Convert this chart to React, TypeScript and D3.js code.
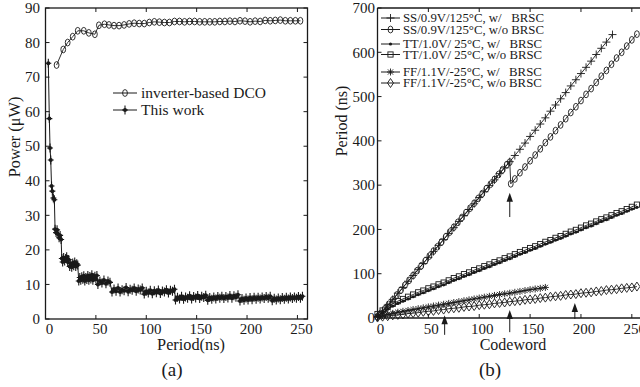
import React from "react";
import * as d3 from "d3";

// ---------- Data: panel (a) ----------
const periodTicksA = [0, 50, 100, 150, 200, 250];
const powerTicks = [0, 10, 20, 30, 40, 50, 60, 70, 80, 90];

// inverter-based DCO: [period ns, power uW]
const dcoData: [number, number][] = [
  [11, 73.5], [17.6, 78], [22, 80], [27, 81.7], [32, 83.4], [38, 83.4], [43, 82.8], [49, 82.4],
  [53, 85], [58.5, 85.3], [63, 85.1], [68, 84.9], [73, 84.9], [78, 85.1], [83, 85.4], [88, 85.6],
  [93, 85.5], [98, 85.5], [103, 85.8], [108, 86], [113, 85.9], [118, 85.8], [123, 85.8], [128, 86.1],
  [133, 86.1], [138, 86], [143, 86.1], [148, 86.1], [153, 86], [158, 86], [163, 86], [168, 86],
  [173, 86.1], [178, 86.1], [183, 86.2], [188, 86.1], [193, 86.3], [198, 86.2], [203, 86], [208, 86.2],
  [213, 86.1], [218, 86.4], [223, 86.3], [228, 86.4], [233, 86.5], [238, 86.3], [243, 86.3], [248, 86.3], [253, 86.3],
];

// This work: [period ns, power uW]
const thisWorkData: [number, number][] = [
  [2.8, 74], [3.8, 58], [4.5, 49.5], [5.2, 46], [6, 38.5], [6.8, 37], [7.8, 35], [8.8, 34.5],
  [9.5, 26], [10.5, 25], [11.5, 25.8], [12.5, 24.5], [13.5, 23.5], [14.5, 24.2], [15.5, 23],
  [16.2, 17.5], [17, 16.5], [18, 17.8], [19, 16.8], [20, 17.5], [21, 18], [22, 16.5], [23, 17.2],
  [24, 15.2], [25, 16], [26, 15], [27, 16.2], [28, 15.4], [29, 16.5], [30, 15.2], [31, 16], [32, 15.6],
  [33, 11], [34, 12], [35, 11.2], [36, 12.2], [37, 11.5], [38, 12.5], [39, 11], [40, 12], [41, 11.4],
  [42, 12.6], [43, 11.2], [44, 12.3], [45, 11.6], [46, 12.8], [47, 11.2], [48, 12], [49, 12.4], [50, 11.5], [51, 12.6],
  [52, 10], [54, 11], [56, 10.4], [58, 11.3], [60, 10.2], [62, 11], [64, 10.6],
  [66, 7.8], [68, 8.7], [70, 8], [72, 9], [74, 7.8], [76, 8.5], [78, 8.2], [80, 9.1], [82, 7.9], [84, 8.6],
  [86, 8.3], [88, 9], [90, 8], [92, 8.7], [94, 8.4], [96, 9],
  [98, 7.2], [100, 8], [102, 7.5], [104, 8.3], [106, 7.3], [108, 8.2], [110, 7.6], [112, 8.4], [114, 7.4],
  [116, 8.1], [118, 7.8], [120, 8.5], [122, 7.5], [124, 8.3], [126, 8], [128, 8.6],
  [129, 5.5], [131, 6.3], [133, 5.8], [135, 6.6], [137, 5.7], [139, 6.4], [141, 6], [143, 6.7], [145, 5.8],
  [147, 6.5], [149, 6.1], [151, 6.8], [153, 5.9], [155, 6.6], [157, 6.2], [159, 6.9],
  [161, 5.4], [163, 6.2], [165, 5.7], [167, 6.4], [169, 5.8], [171, 6.5], [173, 6], [175, 6.6], [177, 5.9],
  [179, 6.5], [181, 6.1], [183, 6.8], [185, 6], [187, 6.7], [189, 6.3], [191, 7],
  [193, 5.2], [195, 5.9], [197, 5.4], [199, 6.1], [201, 5.5], [203, 6.2], [205, 5.6], [207, 6.3], [209, 5.7],
  [211, 6.3], [213, 5.8], [215, 6.4], [217, 5.9], [219, 6.5], [221, 6], [223, 6.6],
  [225, 5.3], [227, 6], [229, 5.5], [231, 6.1], [233, 5.6], [235, 6.2], [237, 5.7], [239, 6.3], [241, 5.8],
  [243, 6.4], [245, 5.9], [247, 6.4], [249, 6], [251, 6.5], [253, 6], [255, 6.6],
];

// ---------- Data: panel (b) ----------
const codewordTicks = [0, 50, 100, 150, 200, 250];
const periodTicksB = [0, 100, 200, 300, 400, 500, 600, 700];

const ssWith: [number, number][] = [
  [0, 2], [5, 15], [10, 29], [15, 42], [20, 56], [25, 69], [30, 83], [35, 96], [40, 110], [45, 123],
  [50, 137], [55, 150], [60, 164], [65, 177], [70, 191], [75, 204], [80, 218], [85, 231], [90, 245],
  [95, 258], [100, 272], [105, 285], [110, 299], [115, 312], [120, 326], [125, 339], [130, 353],
  [135, 367], [140, 381], [145, 395], [150, 410], [155, 424], [160, 438], [165, 452], [170, 467],
  [175, 481], [180, 495], [185, 509], [190, 524], [195, 538], [200, 552], [205, 566], [210, 580],
  [215, 595], [220, 609], [225, 623], [231, 640],
];
const ssWithout: [number, number][] = [
  [0, 3], [3, 10], [7, 20], [11, 31], [15, 41], [19, 52], [23, 63], [27, 74], [31, 85], [35, 96],
  [39, 107], [43, 118], [47, 129], [51, 140], [55, 151], [59, 161], [63, 172], [67, 183], [71, 194],
  [75, 205], [79, 216], [83, 227], [87, 238], [91, 248], [95, 259], [99, 270], [103, 281], [107, 292],
  [111, 302], [115, 313], [119, 324], [123, 335], [127, 346], [130, 352],
  [131, 303], [135, 314], [140, 328], [145, 341], [150, 355], [155, 368], [160, 382], [165, 396],
  [170, 409], [175, 423], [180, 436], [185, 450], [190, 464], [195, 477], [200, 491], [205, 505],
  [210, 518], [215, 532], [220, 546], [225, 559], [230, 573], [235, 587], [240, 600], [245, 614],
  [250, 628], [255, 641],
];
const ttWith: [number, number][] = [
  [0, 5], [5, 12], [10, 20], [15, 27], [20, 33], [25, 38], [30, 43], [35, 48], [40, 53], [45, 57],
  [50, 62], [55, 66], [60, 71], [65, 75], [70, 80], [75, 85], [80, 89], [85, 94], [90, 98], [95, 103],
  [100, 107], [105, 112], [110, 116], [115, 121], [120, 125], [125, 130], [130, 134], [135, 139],
  [140, 144], [145, 148], [150, 153], [155, 157], [160, 162], [165, 167], [170, 171], [175, 176],
  [180, 180], [185, 185], [190, 190], [195, 194], [200, 199], [205, 204], [210, 208], [215, 213],
  [220, 218], [225, 222], [230, 227], [235, 232], [240, 236], [245, 241], [250, 246], [255, 250],
];
const ttWithout: [number, number][] = [
  [0, 9], [5, 17], [10, 25], [15, 32], [20, 38], [25, 43], [30, 48], [35, 53], [40, 58], [45, 62],
  [50, 67], [55, 71], [60, 76], [65, 80], [70, 85], [75, 90], [80, 94], [85, 99], [90, 103], [95, 108],
  [100, 112], [105, 117], [110, 121], [115, 126], [120, 130], [125, 135], [130, 139], [135, 144],
  [140, 149], [145, 153], [150, 158], [155, 162], [160, 167], [165, 172], [170, 176], [175, 181],
  [180, 185], [185, 190], [190, 195], [195, 199], [200, 204], [205, 209], [210, 213], [215, 218],
  [220, 223], [225, 227], [230, 232], [235, 237], [240, 241], [245, 246], [250, 251], [255, 256],
];
const ffWith: [number, number][] = [
  [0, 3], [5, 5.5], [10, 8], [15, 10.5], [20, 13], [25, 15], [30, 17], [35, 19], [40, 21], [45, 23],
  [50, 25], [55, 27], [60, 29], [65, 31], [70, 33], [75, 35], [80, 37], [85, 39], [90, 41], [95, 43],
  [100, 45], [105, 47], [110, 49], [115, 51], [120, 53], [125, 54.5], [130, 56], [135, 58], [140, 60],
  [145, 62], [150, 64], [155, 65.5], [160, 67], [165, 69],
];
const ffWithout: [number, number][] = [
  [0, 1], [5, 3], [10, 4], [15, 6], [20, 7], [25, 8], [30, 10], [35, 11], [40, 12], [45, 14],
  [50, 15], [55, 16], [60, 18], [65, 19], [70, 21], [75, 22], [80, 23], [85, 25], [90, 26], [95, 27],
  [100, 29], [105, 30], [110, 31], [115, 33], [120, 34], [125, 35], [130, 37], [135, 38], [140, 39],
  [145, 41], [150, 42], [155, 43], [160, 45], [165, 46], [170, 48], [175, 49], [180, 50], [185, 52],
  [190, 53], [195, 54], [200, 56], [205, 57], [210, 58], [215, 60], [220, 61], [225, 63], [230, 64],
  [235, 65], [240, 67], [245, 68], [250, 69], [255, 71],
];
// arrows: [codeword, tail period, head period]
const arrowsB: [number, number, number][] = [
  [66, -38, 6], [130, -32, 18], [194, -2, 34], [130, 228, 283],
];

const legendA = ["inverter-based DCO", "This work"];
const legendB = [
  "SS/0.9V/125\u00B0C, w/   BRSC",
  "SS/0.9V/125\u00B0C, w/o BRSC",
  "TT/1.0V/ 25\u00B0C, w/   BRSC",
  "TT/1.0V/ 25\u00B0C, w/o BRSC",
  "FF/1.1V/-25\u00B0C, w/   BRSC",
  "FF/1.1V/-25\u00B0C, w/o BRSC",
];

const C = "#1a1a1a";
const FONT = "Liberation Serif";

type Kind = "circle" | "plus" | "dot" | "square" | "star" | "diamond" | "work";

function marker(kind: Kind, x: number, y: number, key: string | number) {
  const sw = 0.9;
  switch (kind) {
    case "circle":
      return <ellipse key={key} cx={x} cy={y} rx={2.4} ry={3.4} fill="none" stroke={C} strokeWidth={sw} />;
    case "plus":
      return <path key={key} d={`M${x - 4},${y}H${x + 4}M${x},${y - 4}V${y + 4}`} stroke={C} strokeWidth={sw} fill="none" />;
    case "dot":
      return <circle key={key} cx={x} cy={y} r={1.6} fill={C} />;
    case "square":
      return <rect key={key} x={x - 2.6} y={y - 2.6} width={5.2} height={5.2} fill="none" stroke={C} strokeWidth={sw} />;
    case "star":
      return (
        <path key={key}
          d={`M${x - 3.5},${y}H${x + 3.5}M${x},${y - 3.5}V${y + 3.5}M${x - 2.6},${y - 2.6}L${x + 2.6},${y + 2.6}M${x - 2.6},${y + 2.6}L${x + 2.6},${y - 2.6}`}
          stroke={C} strokeWidth={sw} fill="none" />
      );
    case "diamond":
      return <path key={key} d={`M${x},${y - 4.5}L${x + 3},${y}L${x},${y + 4.5}L${x - 3},${y}Z`} fill="none" stroke={C} strokeWidth={sw} />;
    case "work":
      return (
        <g key={key}>
          <path d={`M${x},${y - 4.5}V${y + 4.5}M${x - 3},${y}H${x + 3}`} stroke={C} strokeWidth={1.1} />
          <circle cx={x} cy={y} r={2} fill={C} />
        </g>
      );
  }
}

export default function App() {
  // panel (a)
  const xA = d3.scaleLinear().domain([0, 260]).range([45.5, 307.5]);
  const yA = d3.scaleLinear().domain([0, 90]).range([319, 8]);
  // panel (b)
  const xB = d3.scaleLinear().domain([0, 260]).range([377.5, 642]);
  const yB = d3.scaleLinear().domain([0, 700]).range([318, 8]);

  const lineA = d3.line<[number, number]>().x((d) => xA(d[0])).y((d) => yA(d[1]));
  const lineB = d3.line<[number, number]>().x((d) => xB(d[0])).y((d) => yB(d[1]));

  const seriesB: { data: [number, number][]; kind: Kind }[] = [
    { data: ssWith, kind: "plus" },
    { data: ssWithout, kind: "circle" },
    { data: ttWith, kind: "dot" },
    { data: ttWithout, kind: "square" },
    { data: ffWith, kind: "star" },
    { data: ffWithout, kind: "diamond" },
  ];
  const legendBY = [18, 29.5, 44, 54.5, 72, 83];

  const [ax0, ax1] = xA.range();
  const [ay0, ay1] = yA.range();
  const bx0 = xB.range()[0];
  const [by0, by1] = yB.range();
  const tk = 4;

  return (
    <svg width={640} height={387} viewBox="0 0 640 387"
      style={{ position: "absolute", left: 0, top: 0, background: "#fff" }}>
      <rect width={640} height={387} fill="#fff" />
      <g fontFamily={FONT}>

      {/* ===== Panel (a) ===== */}
      <g>
        <path d={lineA(dcoData) || ""} fill="none" stroke={C} strokeWidth={0.9} />
        {dcoData.map((d, i) => marker("circle", xA(d[0]), yA(d[1]), "dco" + i))}
        <path d={lineA(thisWorkData) || ""} fill="none" stroke={C} strokeWidth={1} />
        {thisWorkData.map((d, i) => marker("work", xA(d[0]), yA(d[1]), "tw" + i))}

        <rect x={ax0} y={ay1} width={ax1 - ax0} height={ay0 - ay1} fill="none" stroke={C} strokeWidth={1.3} />
        {periodTicksA.map((t) => (
          <g key={"xa" + t}>
            <line x1={xA(t)} x2={xA(t)} y1={ay0} y2={ay0 - tk} stroke={C} />
            <line x1={xA(t)} x2={xA(t)} y1={ay1} y2={ay1 + tk} stroke={C} />
            <text x={xA(t) + 4} y={334} fontSize={15} textAnchor="middle" fill={C}>{t}</text>
          </g>
        ))}
        {powerTicks.map((t) => (
          <g key={"ya" + t}>
            <line x1={ax0} x2={ax0 + tk} y1={yA(t)} y2={yA(t)} stroke={C} />
            <line x1={ax1} x2={ax1 - tk} y1={yA(t)} y2={yA(t)} stroke={C} />
            <text x={40} y={yA(t)} dy="0.35em" fontSize={15} textAnchor="end" fill={C}>{t}</text>
          </g>
        ))}
        <text x={191} y={350} fontSize={16.3} textAnchor="middle" fill={C}>Period(ns)</text>
        <text transform="translate(20,137) rotate(-90)" fontSize={16.3} textAnchor="middle" fill={C}>Power (μW)</text>
        <text x={172} y={376} fontSize={19} textAnchor="middle" fill={C}>(a)</text>

        {legendA.map((name, i) => {
          const y = 93 + i * 17;
          return (
            <g key={"la" + i}>
              <line x1={113} x2={137} y1={y} y2={y} stroke={C} strokeWidth={1} />
              {marker(i === 0 ? "circle" : "work", 125, y, "lam" + i)}
              <text x={141} y={y} dy="0.35em" fontSize={15.5} fill={C}>{name}</text>
            </g>
          );
        })}
      </g>

      {/* ===== Panel (b) ===== */}
      <g>
        {seriesB.map((s, si) => (
          <g key={"sb" + si}>
            <path d={lineB(s.data) || ""} fill="none" stroke={C} strokeWidth={si === 2 ? 1.3 : 0.9} />
            {s.data.map((d, i) => marker(s.kind, xB(d[0]), yB(d[1]), "m" + si + "_" + i))}
          </g>
        ))}

        {arrowsB.map(([cw, p0, p1], i) => {
          const x = xB(cw);
          const yt = yB(p0);
          const yh = yB(p1);
          return (
            <g key={"ar" + i}>
              <line x1={x} x2={x} y1={yt} y2={yh + 6} stroke={C} strokeWidth={1} />
              <path d={`M${x},${yh}L${x + 3.2},${yh + 9}L${x - 3.2},${yh + 9}Z`} fill={C} />
            </g>
          );
        })}

        <line x1={bx0} x2={bx0} y1={by1} y2={by0} stroke={C} strokeWidth={1.3} />
        <line x1={bx0} x2={640} y1={by0} y2={by0} stroke={C} strokeWidth={1.3} />
        <line x1={bx0} x2={640} y1={by1} y2={by1} stroke={C} strokeWidth={1.3} />
        {codewordTicks.map((t) => (
          <g key={"xb" + t}>
            <line x1={xB(t)} x2={xB(t)} y1={by0} y2={by0 - tk} stroke={C} />
            <line x1={xB(t)} x2={xB(t)} y1={by1} y2={by1 + tk} stroke={C} />
            <text x={xB(t) + 3} y={334} fontSize={15} textAnchor="middle" fill={C}>{t}</text>
          </g>
        ))}
        {periodTicksB.map((t) => (
          <g key={"yb" + t}>
            <line x1={bx0} x2={bx0 + tk} y1={yB(t)} y2={yB(t)} stroke={C} />
            <text x={375} y={yB(t)} dy="0.35em" fontSize={15} textAnchor="end" fill={C}>{t}</text>
          </g>
        ))}
        <text x={513} y={350} fontSize={16} textAnchor="middle" fill={C}>Codeword</text>
        <text transform="translate(347,121) rotate(-90)" fontSize={16} textAnchor="middle" fill={C}>Period (ns)</text>
        <text x={490} y={376} fontSize={19} textAnchor="middle" fill={C}>(b)</text>

        {legendB.map((name, i) => {
          const y = legendBY[i];
          return (
            <g key={"lb" + i}>
              <line x1={381} x2={400} y1={y} y2={y} stroke={C} strokeWidth={1} />
              {marker(seriesB[i].kind, 390.5, y, "lbm" + i)}
              <text x={403} y={y} dy="0.35em" fontSize={12.8} fill={C} style={{ whiteSpace: "pre" }}>{name}</text>
            </g>
          );
        })}
      </g>
      </g>
    </svg>
  );
}
